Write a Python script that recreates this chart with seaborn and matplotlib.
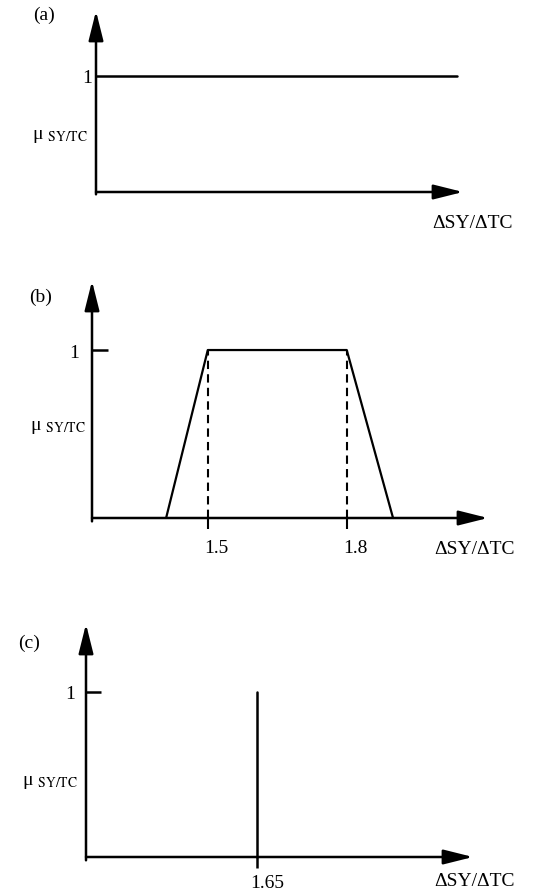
import seaborn as sns
import matplotlib.pyplot as plt
from matplotlib.transforms import ScaledTranslation

sns.set_theme(style="white")
plt.rcParams["font.family"] = ["Liberation Serif", "DejaVu Serif"]
plt.rcParams["mathtext.fontset"] = "stix"
for k in ["text.color", "axes.labelcolor", "xtick.color", "ytick.color"]:
    plt.rcParams[k] = "black"

# -------------------------
# 数据
# -------------------------
a_x = [1.25, 2.03]
a_mu = [1, 1]
b_x = [1.41, 1.5, 1.8, 1.90]
b_mu = [0, 1, 1, 0]
b_ticks = [1.5, 1.8]
c_x = [1.65, 1.65]
c_mu = [1, 0]
c_ticks = [1.65]
y_ticks = [1]
xlabel = "ΔSY/ΔTC"
ylabel = "μ $_{\\rm SY/TC}$"
names = ["(a)", "(b)", "(c)"]

W, H = 535, 895
FS = 14
fig = plt.figure(figsize=(W / 100, H / 100), dpi=100)


def add_panel(left, bottom, right, top):
    return fig.add_axes([left / W, 1 - bottom / H, (right - left) / W, (bottom - top) / H])


def arrows(ax):
    x0, x1 = ax.get_xlim()
    y0, y1 = ax.get_ylim()
    kw = dict(arrowstyle="-|>,head_length=1.0,head_width=0.25", color="black",
              lw=1.8, mutation_scale=18, shrinkA=0, shrinkB=0)
    ax.annotate("", xy=(x1, 0), xytext=(x0, 0), arrowprops=kw, annotation_clip=False)
    ax.annotate("", xy=(x0, y1), xytext=(x0, -0.02), arrowprops=kw, annotation_clip=False)


def decorate(ax, name, tpos, ypos, xpos):
    for s in ax.spines.values():
        s.set_visible(False)
    ax.patch.set_alpha(0)
    ax.text(tpos[0], tpos[1], name, transform=ax.transAxes, ha="center", va="center", fontsize=FS)
    ax.set_ylabel(ylabel, rotation=0, fontsize=FS, ha="center", va="center")
    ax.yaxis.set_label_coords(*ypos)
    ax.set_xlabel(xlabel, fontsize=FS)
    ax.xaxis.set_label_coords(*xpos)
    ax.xaxis.label.set_verticalalignment("center")
    arrows(ax)


def shift_xlabels(ax, dx_px):
    off = ScaledTranslation(dx_px / 100, 0, fig.dpi_scale_trans)
    for lab in ax.get_xticklabels():
        lab.set_transform(lab.get_transform() + off)


# (a)
ax = add_panel(96, 193, 463, 12)
ax.set_xlim(1.25, 2.043)
ax.set_ylim(0, 1.56)
sns.lineplot(x=a_x, y=a_mu, color="black", lw=1.8, ax=ax, clip_on=False)
ax.set_xticks([])
ax.set_yticks(y_ticks, labels=["1"])
ax.tick_params(axis="y", left=True, length=0, pad=3, labelsize=FS)
decorate(ax, names[0], (-0.142, 0.983), (-0.098, 0.31), (1.027, -0.166))

# (b)
ax = add_panel(92, 519, 488, 282)
ax.set_xlim(1.25, 2.105)
ax.set_ylim(0, 1.411)
sns.lineplot(x=b_x, y=b_mu, estimator=None, sort=False, color="black", lw=1.6,
             ax=ax, clip_on=False)
ax.vlines([b_x[1], b_x[2]], 0, 1, colors="black", lw=1.5, linestyles=(0, (4, 2.5)))
ax.set_xticks(b_ticks, labels=[str(t) for t in b_ticks])
ax.set_yticks(y_ticks, labels=["1"])
ax.tick_params(axis="x", bottom=True, direction="out", length=8, width=1.5, pad=7, labelsize=FS)
ax.tick_params(axis="y", left=True, direction="in", length=11.5, width=1.8, pad=9, labelsize=FS)
shift_xlabels(ax, 9)
decorate(ax, names[1], (-0.129, 0.937), (-0.086, 0.384), (0.965, -0.127))

# (c)
ax = add_panel(86, 858, 473, 625)
ax.set_xlim(1.281, 2.117)
ax.set_ylim(0, 1.412)
sns.lineplot(x=c_x, y=c_mu, estimator=None, sort=False, color="black", lw=1.8,
             ax=ax, clip_on=False)
ax.set_xticks(c_ticks, labels=[str(t) for t in c_ticks])
ax.set_yticks(y_ticks, labels=["1"])
ax.tick_params(axis="x", bottom=True, direction="out", length=8, width=1.8, pad=4, labelsize=FS)
ax.tick_params(axis="y", left=True, direction="in", length=10.5, width=1.8, pad=8, labelsize=FS)
shift_xlabels(ax, 10)
decorate(ax, names[2], (-0.147, 0.923), (-0.093, 0.322), (1.003, -0.099))

fig.savefig("out.png", dpi=100)
